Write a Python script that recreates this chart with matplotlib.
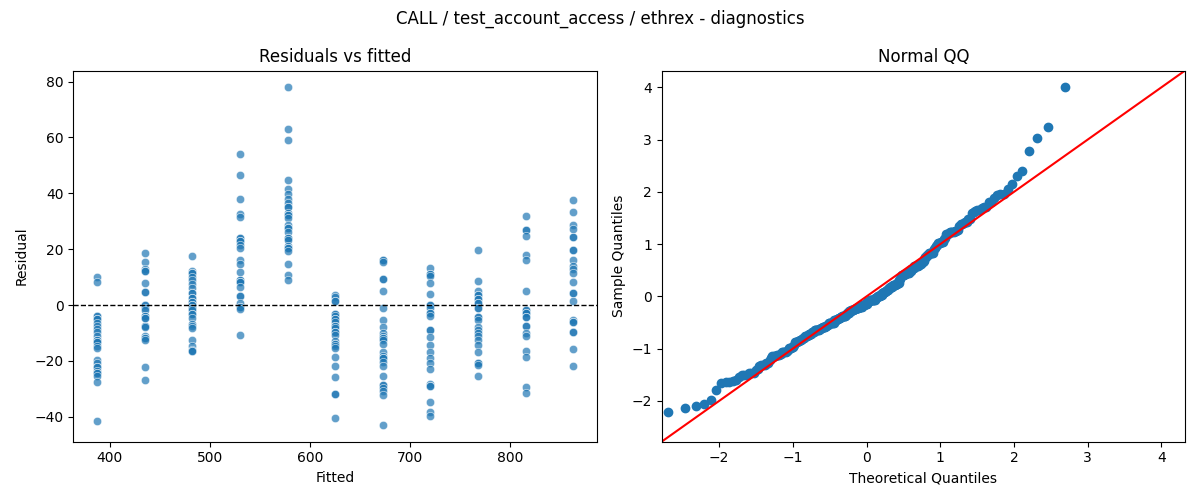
import numpy as np
import pandas as pd
import matplotlib
matplotlib.use("Agg")
import matplotlib.pyplot as plt
import seaborn as sns
from statistics import NormalDist

# fitted levels (one column of points per level)
fitted_levels = [387.3, 435.0, 482.5, 530.0, 577.6, 625.0, 672.8, 720.4, 768.0, 815.5, 863.0]

# residuals, one list per fitted level (repeats = overlapping dots)
res_387 = [10.2, 8.3, -3.8, -3.8, -5.0, -5.0, -6.4, -7.6, -8.6, -9.8, -11.2, -12.6, -12.6, -13.3,
           -13.3, -14.5, -15.5, -19.8, -20.7, -22.2, -22.2, -23.7, -24.5, -24.5, -25.3, -27.4, -41.4]
res_435 = [18.6, 15.4, 12.9, 12.2, 12.2, 7.9, 4.6, 4.6, 0.1, 0.1, -1.1, -1.9, -3.8, -3.8, -4.6,
           -4.6, -7.4, -7.4, -7.9, -11.2, -11.9, -11.9, -12.6, -22.2, -26.8]
res_482 = [17.6, 12.2, 11.4, 11.4, 10.2, 8.8, 7.6, 6.1, 4.3, 4.3, 2.6, 2.6, 1.2, 1.2, 0.0, 0.0,
           -1.2, -1.2, -1.9, -3.1, -3.1, -4.6, -6.7, -7.6, -8.3, -12.4, -14.5, -16.0, -16.6, -16.6]
res_530 = [54.1, 46.5, 37.9, 32.7, 31.5, 24.0, 24.0, 23.1, 23.1, 21.6, 20.4, 16.2, 14.8, 11.8,
           8.8, 8.8, 8.1, 8.1, 6.4, 3.3, 3.3, 0.7, -0.7, -0.7, -1.4, -10.7]
res_577 = [77.9, 62.9, 59.0, 44.7, 41.6, 39.8, 38.1, 36.5, 35.0, 35.0, 33.1, 32.2, 32.2, 31.0,
           28.6, 27.7, 27.7, 26.0, 24.0, 24.0, 23.4, 21.3, 20.4, 20.4, 19.2, 14.7, 10.7, 8.8]
res_625 = [3.7, 2.9, 1.5, 1.5, -3.1, -3.1, -3.8, -5.0, -5.0, -6.2, -7.4, -7.4, -8.2, -9.8, -9.8,
           -10.6, -13.0, -13.8, -13.8, -14.5, -15.4, -18.6, -21.8, -25.6, -31.7, -31.7, -40.6]
res_673 = [16.2, 16.2, 15.4, 9.4, 9.4, 5.0, -1.1, -5.5, -7.9, -10.0, -11.0, -11.8, -11.8, -12.6,
           -13.9, -16.9, -18.1, -19.1, -19.1, -20.3, -21.8, -25.5, -28.5, -28.5, -29.7, -30.9,
           -32.1, -42.9]
res_720 = [13.2, 11.2, 11.2, 10.5, 7.9, 3.9, 0.1, 0.1, -1.1, -2.9, -2.9, -4.1, -8.8, -8.8, -11.4,
           -14.2, -16.9, -19.0, -20.7, -22.8, -28.2, -29.1, -29.1, -34.8, -38.4, -39.8]
res_768 = [19.8, 8.6, 4.9, 3.7, 3.7, 2.1, 2.1, 0.7, 0.7, -1.1, -1.1, -4.3, -4.3, -5.5, -7.9,
           -8.8, -10.0, -11.2, -12.6, -14.2, -16.8, -20.7, -20.7, -21.5, -25.3]
res_815 = [31.9, 26.9, 26.9, 24.6, 18.0, 16.2, 5.0, -1.7, -1.7, -2.9, -2.9, -4.3, -4.3, -7.4,
           -7.4, -10.0, -11.0, -16.3, -18.6, -29.2, -31.5]
res_863 = [37.7, 33.4, 28.8, 27.2, 24.2, 24.2, 19.8, 19.8, 16.2, 13.8, 12.9, 11.4, 8.3, 4.3,
           4.3, 1.5, -5.2, -6.2, -6.2, -9.8, -9.8, -15.6, -21.7]

groups = [res_387, res_435, res_482, res_530, res_577, res_625,
          res_673, res_720, res_768, res_815, res_863]

df = pd.DataFrame({
    "fitted": np.concatenate([[f] * len(g) for f, g in zip(fitted_levels, groups)]),
    "resid": np.concatenate(groups),
})

fig, (ax1, ax2) = plt.subplots(1, 2, figsize=(12, 5), dpi=100)

# residuals vs fitted
sns.scatterplot(data=df, x="fitted", y="resid", alpha=0.7, ax=ax1)
ax1.axhline(0, color="black", linestyle="--", linewidth=1)
ax1.set_title("Residuals vs fitted")
ax1.set_xlabel("Fitted")
ax1.set_ylabel("Residual")

# normal QQ of standardized residuals
r = df["resid"].to_numpy()
z = np.sort((r - r.mean()) / r.std(ddof=1))
n = len(z)
theo = np.array([NormalDist().inv_cdf(i / (n + 1)) for i in range(1, n + 1)])
ax2.plot(theo, z, "o", color="C0")
lo, hi = -2.78, 4.32
ax2.plot([lo, hi], [lo, hi], color="red")
ax2.set_xlim(lo, hi)
ax2.set_ylim(lo, hi)
ax2.set_title("Normal QQ")
ax2.set_xlabel("Theoretical Quantiles")
ax2.set_ylabel("Sample Quantiles")

fig.suptitle("CALL / test_account_access / ethrex - diagnostics")
fig.tight_layout()
fig.savefig("out.png")
